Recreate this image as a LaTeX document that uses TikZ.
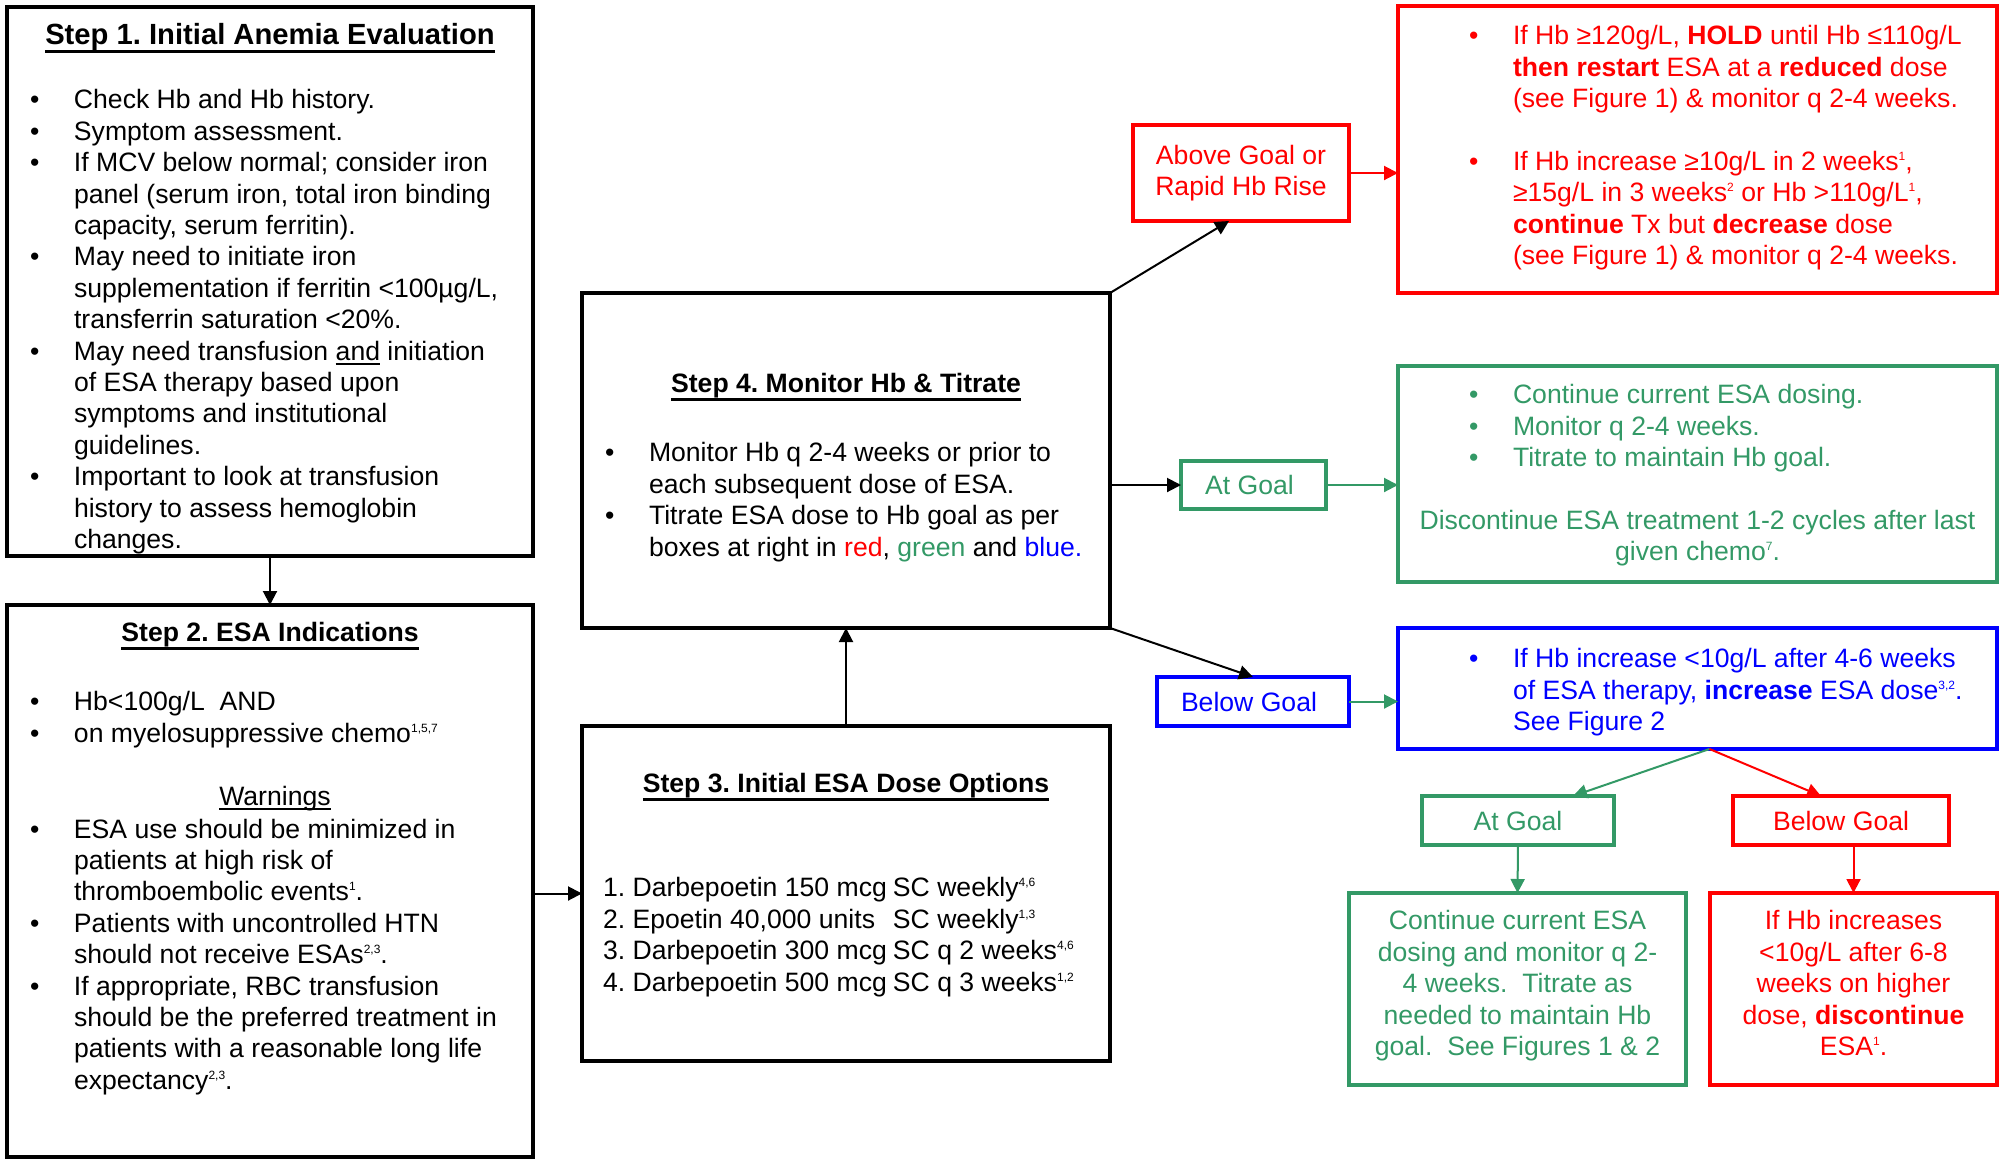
\documentclass[tikz,border=0pt]{standalone}
\usepackage{fontspec}
\setmainfont{Liberation Sans}
\usetikzlibrary{arrows.meta}
\frenchspacing

\definecolor{esared}{RGB}{255,0,0}
\definecolor{esagreen}{RGB}{51,153,102}
\definecolor{esablue}{RGB}{0,0,255}

% bullet, hanging indent, superscript refs, underline
\newcommand{\bl}{\strut\makebox[44pt][l]{\textbullet}}
\newcommand{\hs}{\hspace*{44pt}}
\newcommand{\refnum}[1]{\raisebox{10pt}{\fontsize{12}{12}\selectfont #1}}
\newcommand{\undr}[2][-8pt]{\setbox0=\hbox{#2}\rlap{\rule[#1]{\wd0}{2.5pt}}\box0\relax}
\newcommand{\inbox}[4]{\begin{minipage}[t][#2][t]{#1}\raggedright\leftskip=#3\relax #4\end{minipage}}

\tikzset{
  stepbox/.style={draw=black, line width=4pt, inner sep=0pt, outer sep=0pt, anchor=north west,
    font=\fontsize{26.6}{31.4}\selectfont},
  colbox/.style={draw=#1, text=#1, line width=4pt, inner sep=0pt, outer sep=0pt, anchor=north west,
    font=\fontsize{26.6}{31.4}\selectfont},
  goalbox/.style={colbox=#1, align=center, minimum height=49pt},
  conn/.style={line width=2pt, -{Triangle[length=14pt,width=14pt]}}
}

\begin{document}
\begin{tikzpicture}[x=1pt, y=-1pt]
\useasboundingbox (0,0) rectangle (2007,1160);

% left column
\node[stepbox] (step1) at (7,7) {\inbox{526pt}{549pt}{23pt}{%
\vspace*{16pt}
\centerline{\strut\fontsize{29.2}{31.4}\selectfont\textbf{\undr{Step 1. Initial Anemia Evaluation}}}
\vspace{32.6pt}
\bl Check Hb and Hb history.\\
\bl Symptom assessment.\\
\bl If MCV below normal; consider iron\\
\hs panel (serum iron, total iron binding\\
\hs capacity, serum ferritin).\\
\bl May need to initiate iron\\
\hs supplementation if ferritin <100µg/L,\\
\hs transferrin saturation <20\%.\\
\bl May need transfusion \undr[-5pt]{and} initiation\\
\hs of ESA therapy based upon\\
\hs symptoms and institutional\\
\hs guidelines.\\
\bl Important to look at transfusion\\
\hs history to assess hemoglobin\\
\hs changes.}};

\node[stepbox] (step2) at (7,605) {\inbox{526pt}{552pt}{23pt}{%
\vspace*{15pt}
\centerline{\strut\textbf{\undr{Step 2. ESA Indications}}}
\vspace{37.6pt}
\bl Hb<100g/L\ \ AND\\
\bl on myelosuppressive chemo\refnum{1,5,7}\par
\vspace{31.4pt}
\centerline{\hspace*{10pt}\undr[-5pt]{Warnings}}
\vspace{1.6pt}
\bl ESA use should be minimized in\\
\hs patients at high risk of\\
\hs thromboembolic events\refnum{1}.\\
\bl Patients with uncontrolled HTN\\
\hs should not receive ESAs\refnum{2,3}.\\
\bl If appropriate, RBC transfusion\\
\hs should be the preferred treatment in\\
\hs patients with a reasonable long life\\
\hs expectancy\refnum{2,3}.}};

% middle column
\node[stepbox] (step4) at (582,293) {\inbox{528pt}{335pt}{23pt}{%
\vspace*{78pt}
\centerline{\strut\textbf{\undr{Step 4. Monitor Hb \& Titrate}}}
\vspace{37.6pt}
\bl Monitor Hb q 2-4 weeks or prior to\\
\hs each subsequent dose of ESA.\\
\bl Titrate ESA dose to Hb goal as per\\
\hs boxes at right in {\color{esared}red}, {\color{esagreen}green} and {\color{esablue}blue.}}};

\node[stepbox] (step3) at (582,726) {\inbox{528pt}{335pt}{21pt}{%
\vspace*{45pt}
\centerline{\strut\textbf{\undr{Step 3. Initial ESA Dose Options}}}
\vspace{72.6pt}
\makebox[290pt][l]{1. Darbepoetin 150 mcg}SC weekly\refnum{4,6}\\
\makebox[290pt][l]{2. Epoetin 40,000 units}SC weekly\refnum{1,3}\\
\makebox[290pt][l]{3. Darbepoetin 300 mcg}SC q 2 weeks\refnum{4,6}\\
\makebox[290pt][l]{4. Darbepoetin 500 mcg}SC q 3 weeks\refnum{1,2}}};

% goal labels
\node[goalbox=esared, minimum width=216pt, minimum height=96pt] (above) at (1133,125) {Above Goal or\\Rapid Hb Rise};
\node[goalbox=esagreen, minimum width=145pt, minimum height=48pt] (atgoal) at (1181,461) {At Goal\hspace*{8pt}};
\node[goalbox=esablue, minimum width=192pt] (belowgoal) at (1157,677) {Below Goal\hspace*{8pt}};

% right column
\node[colbox=esared] (redtop) at (1398,6) {\inbox{599pt}{287pt}{71pt}{%
\vspace*{17pt}
\bl If Hb ≥120g/L, \textbf{HOLD} until Hb ≤110g/L\\
\hs\textbf{then restart} ESA at a \textbf{reduced} dose\\
\hs (see Figure 1) \& monitor q 2-4 weeks.\\[31.4pt]
\bl If Hb increase ≥10g/L in 2 weeks\refnum{1},\\
\hs ≥15g/L in 3 weeks\refnum{2} or Hb >110g/L\refnum{1},\\
\hs\textbf{continue} Tx but \textbf{decrease} dose\\
\hs (see Figure 1) \& monitor q 2-4 weeks.}};

\node[colbox=esagreen] (greenbox) at (1398,366) {\inbox{599pt}{216pt}{71pt}{%
\vspace*{16pt}
\bl Continue current ESA dosing.\\
\bl Monitor q 2-4 weeks.\\
\bl Titrate to maintain Hb goal.\par
\vspace{31.4pt}
\centerline{Discontinue ESA treatment 1-2 cycles after last}
\centerline{given chemo\refnum{7}.}}};

\node[colbox=esablue] (bluebox) at (1398,628) {\inbox{599pt}{121pt}{71pt}{%
\vspace*{18pt}
\bl If Hb increase <10g/L after 4-6 weeks\\
\hs of ESA therapy, \textbf{increase} ESA dose\refnum{3,2}.\\
\hs See Figure 2}};

\node[goalbox=esagreen, minimum width=192pt] (atgoal2) at (1422,796) {At Goal};
\node[goalbox=esared, minimum width=216pt] (belowgoal2) at (1733,796) {Below Goal};

\node[colbox=esagreen] (greenbot) at (1349,893) {\inbox{337pt}{192pt}{0pt}{%
\vspace*{15pt}\centering
\strut Continue current ESA\\
dosing and monitor q 2-\\
4 weeks.\ \ Titrate as\\
needed to maintain Hb\\
goal.\ \ See Figures 1 \& 2}};

\node[colbox=esared] (redbot) at (1710,893) {\inbox{287pt}{192pt}{0pt}{%
\vspace*{15pt}\centering
\strut If Hb increases\\
<10g/L after 6-8\\
weeks on higher\\
dose, \textbf{discontinue}\\
ESA\refnum{1}.}};

% connectors
\draw[conn] (step1.south) -- (step2.north);
\draw[conn] (step3.west -| step2.east) -- (step3.west);
\draw[conn] (step3.north) -- (step4.south);
\draw[conn] (step4.north east) -- ([xshift=-12pt]above.south);
\draw[conn] (atgoal.west -| step4.east) -- (atgoal.west);
\draw[conn] (step4.south east) -- (belowgoal.north);
\draw[conn, esared] (above.east) -- (above.east -| redtop.west);
\draw[conn, esagreen] (atgoal.east) -- (atgoal.east -| greenbox.west);
\draw[conn, esagreen] (belowgoal.east) -- (belowgoal.east -| bluebox.west);
\draw[conn, esagreen] ([xshift=12pt]bluebox.south) -- ([xshift=55pt]atgoal2.north);
\draw[conn, esared] ([xshift=12pt]bluebox.south) -- ([xshift=-20pt]belowgoal2.north);
\draw[conn, esagreen] (atgoal2.south) -- (greenbot.north);
\draw[conn, esared] (redbot.north |- belowgoal2.south) -- (redbot.north);
\end{tikzpicture}
\end{document}
